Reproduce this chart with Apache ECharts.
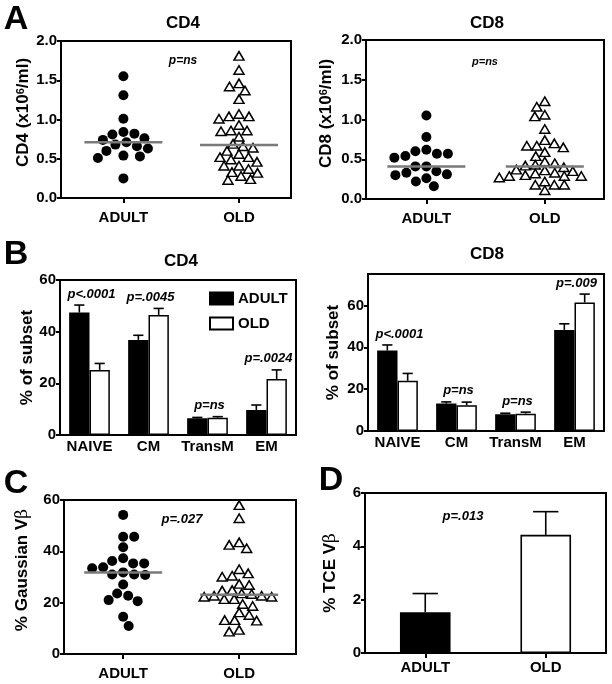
<!DOCTYPE html>
<html>
<head>
<meta charset="utf-8">
<script src="https://cdn.jsdelivr.net/npm/echarts@6/dist/echarts.min.js"></script>
<style>html,body{margin:0;padding:0;background:#fff}#c{width:612px;height:684px}</style>
</head>
<body>
<div id="c"></div>
<script>
// ---------- DATA ----------
const groups = ['ADULT', 'OLD'];
// Panel A (x10^6/ml)
const cd4Adult = [1.55, 1.31, 1.01, 0.84, 0.82, 0.81, 0.76, 0.74, 0.71, 0.68, 0.66, 0.63, 0.60, 0.54, 0.53, 0.51, 0.25];
const cd4Old = [1.81, 1.63, 1.46, 1.42, 1.37, 1.26, 1.07, 1.04, 1.04, 1.01, 0.93, 0.86, 0.86, 0.85, 0.78, 0.69,
                0.66, 0.64, 0.60, 0.56, 0.52, 0.52, 0.49, 0.46, 0.41, 0.41, 0.37, 0.33, 0.32, 0.28, 0.24, 0.23];
const cd8Adult = [1.05, 0.78, 0.62, 0.60, 0.57, 0.57, 0.54, 0.52, 0.41, 0.41, 0.35, 0.33, 0.31, 0.30, 0.26, 0.22, 0.16];
const cd8Old = [1.23, 1.16, 1.06, 1.04, 0.88, 0.74, 0.70, 0.67, 0.67, 0.65, 0.59, 0.54, 0.47, 0.45, 0.43, 0.42,
                0.40, 0.37, 0.36, 0.35, 0.33, 0.32, 0.30, 0.29, 0.29, 0.29, 0.27, 0.22, 0.18, 0.18, 0.18, 0.11];
// Panel B (% of subset)
const subsetCats = ['NAIVE', 'CM', 'TransM', 'EM'];
const cd4SubAdult = [47.4, 36.8, 6.5, 9.7];
const cd4SubAdultErr = [2.9, 1.8, 0.3, 1.9];
const cd4SubOld = [25.2, 46.5, 6.7, 21.7];
const cd4SubOldErr = [2.5, 2.5, 0.4, 3.5];
const cd4SubP = ['p<.0001', 'p=.0045', 'p=ns', 'p=.0024'];
const cd8SubAdult = [38.4, 13.1, 8.0, 48.3];
const cd8SubAdultErr = [2.7, 0.8, 0.5, 2.9];
const cd8SubOld = [24.0, 12.3, 8.3, 61.4];
const cd8SubOldErr = [3.5, 1.5, 0.7, 4.0];
const cd8SubP = ['p<.0001', 'p=ns', 'p=ns', 'p=.009'];
// Panel C (% Gaussian Vb)
const gaussAdult = [54.2, 45.7, 45.7, 41.6, 37.3, 36.2, 35.3, 35.3, 33.8, 33.4, 31.8, 31.0, 30.8, 31.0, 27.1, 23.6, 22.7, 21.0, 20.6, 14.5, 10.9];
const gaussOld = [58.0, 52.9, 43.5, 42.5, 41.2, 33.0, 31.4, 30.5, 30.1, 27.3, 26.9, 24.9, 24.7, 23.6, 23.4,
                  22.7, 22.7, 22.3, 22.3, 21.4, 21.4, 19.5, 18.7, 16.2, 15.2, 13.2, 13.0, 13.2, 9.4, 8.7];
// Panel D (% TCE Vb)
const tceMean = [1.53, 4.43];
const tceErr = [0.70, 0.87];

// ---------- HELPERS ----------
const FONT = "'Liberation Sans', Arial, Helvetica, sans-serif";
const median = a => { const s = a.slice().sort((x, y) => x - y); const n = s.length; return n % 2 ? s[(n - 1) / 2] : (s[n / 2 - 1] + s[n / 2]) / 2; };

const grids = [
  { left: 61, top: 41, width: 230, height: 157 },
  { left: 366, top: 40, width: 238, height: 159 },
  { left: 60, top: 280, width: 236, height: 155 },
  { left: 368, top: 274, width: 236, height: 157 },
  { left: 64, top: 500, width: 232, height: 154 },
  { left: 365, top: 493, width: 241, height: 160 }
];
const xRanges = { 0: [0.46, 2.45], 1: [0.49, 2.5], 4: [0.49, 2.49] };
const yMaxes = [2, 2, 60, 75, 60, 6];

// beeswarm offsets (in x data units) computed from the values (elliptic collision)
function swarm(vals, gi, wx, wy) {
  const g = grids[gi];
  const pyPer = g.height / yMaxes[gi];
  const pxPer = g.width / (xRanges[gi][1] - xRanges[gi][0]);
  const order = vals.map((v, i) => i).sort((a, b) => vals[b] - vals[a]);
  const placed = []; const out = new Array(vals.length);
  let flip = 1;
  for (const i of order) {
    const y = vals[i] * pyPer; let x = null;
    for (let k = 0; k < 800 && x === null; k++) {
      const cs = k === 0 ? [0] : [flip * k * 0.5, -flip * k * 0.5];
      for (const c of cs) {
        if (placed.every(p => ((p.x - c) / wx) ** 2 + ((p.y - y) / wy) ** 2 >= 1)) { x = c; break; }
      }
    }
    flip = -flip;
    placed.push({ x, y }); out[i] = x / pxPer;
  }
  return out;
}
function swarmData(vals, gi, center, filled) {
  const off = filled ? swarm(vals, gi, 11, 10.5) : swarm(vals, gi, 10, 8.5);
  return vals.map((v, i) => [center + off[i], v]);
}

const axisLineStyle = { show: true, lineStyle: { color: '#000', width: 2 } };
const tickStyle = { show: true, length: 4, lineStyle: { color: '#000', width: 2 } };
const labelBase = { color: '#000', fontSize: 15, fontWeight: 'bold', fontFamily: FONT };
function nameStyle(pad) {
  return {
    color: '#000', fontSize: 17, fontWeight: 'bold', fontFamily: FONT, padding: pad || 0,
    rich: {
      sup: { fontSize: 11, fontWeight: 'bold', fontFamily: FONT, color: '#000', verticalAlign: 'top' },
      beta: { fontSize: 17, fontWeight: 'normal', fontFamily: "'DejaVu Serif', serif", color: '#000' }
    }
  };
}

function yAxis(gi, max, interval, name, nameGap, fmt, pad, extraLabel) {
  return {
    gridIndex: gi, type: 'value', min: 0, max, interval,
    name, nameLocation: 'middle', nameGap, nameRotate: 90,
    nameTextStyle: nameStyle(pad),
    axisLine: axisLineStyle, axisTick: tickStyle,
    axisLabel: Object.assign({}, labelBase, { margin: 4, formatter: fmt || (v => String(v)) }, extraLabel || {}),
    splitLine: { show: false }
  };
}
function xValueAxis(gi) {
  return {
    gridIndex: gi, type: 'value', min: xRanges[gi][0], max: xRanges[gi][1],
    axisLine: axisLineStyle,
    axisTick: Object.assign({}, tickStyle, { length: 5, customValues: [1, 2] }),
    axisLabel: Object.assign({}, labelBase, { margin: 12, customValues: [1, 2], formatter: v => groups[Math.round(v) - 1] }),
    splitLine: { show: false }
  };
}
function xCatAxis(gi, cats, showTick, margin) {
  return {
    gridIndex: gi, type: 'category', data: cats,
    axisLine: axisLineStyle,
    axisTick: Object.assign({}, tickStyle, { show: showTick, length: 5, alignWithLabel: true }),
    axisLabel: Object.assign({}, labelBase, { margin, interval: 0 }),
    splitLine: { show: false }
  };
}

function dotSeries(gi, vals, center, filled) {
  return {
    type: 'scatter', xAxisIndex: gi, yAxisIndex: gi, data: swarmData(vals, gi, center, filled),
    symbol: filled ? 'circle' : 'triangle',
    symbolSize: filled ? 10 : [10, 8.5],
    itemStyle: filled ? { color: '#000', opacity: 1 } : { color: '#fff', borderColor: '#000', borderWidth: 1.5, opacity: 1 },
    z: 3, silent: true
  };
}
function medianSeries(gi, meds) {
  return {
    type: 'custom', xAxisIndex: gi, yAxisIndex: gi, z: 6, silent: true,
    data: meds.map((m, i) => [i + 1, m]),
    renderItem: (params, api) => {
      const p = api.coord([api.value(0), api.value(1)]);
      return { type: 'line', shape: { x1: p[0] - 39, y1: p[1], x2: p[0] + 39, y2: p[1] }, style: { stroke: '#7a7a7a', lineWidth: 2.5 } };
    }
  };
}
function barSeries(gi, name, vals, fill) {
  return {
    type: 'bar', name, xAxisIndex: gi, yAxisIndex: gi, data: vals,
    barGap: '0%', barCategoryGap: '31%',
    itemStyle: { color: fill, borderColor: '#000', borderWidth: 1.5 },
    z: 2, silent: true
  };
}
function errSeries(gi, vals, errs, sign, frac) {
  return {
    type: 'custom', xAxisIndex: gi, yAxisIndex: gi, z: 4, silent: true,
    data: vals.map((v, i) => [i, v, errs[i]]),
    renderItem: (params, api) => {
      const base = api.coord([api.value(0), api.value(1)]);
      const top = api.coord([api.value(0), api.value(1) + api.value(2)]);
      const bw = api.size([1, 0])[0] * frac;
      const x = base[0] + sign * bw / 2;
      const half = bw / 4;
      const st = { stroke: '#000', lineWidth: 1.6 };
      return { type: 'group', children: [
        { type: 'line', shape: { x1: x, y1: base[1], x2: x, y2: top[1] }, style: st },
        { type: 'line', shape: { x1: x - half, y1: top[1], x2: x + half, y2: top[1] }, style: st }
      ] };
    }
  };
}
function pSeries(gi, a, ae, o, oe, labels) {
  return {
    type: 'custom', xAxisIndex: gi, yAxisIndex: gi, z: 7, silent: true,
    data: a.map((v, i) => [i, Math.max(v + ae[i], o[i] + oe[i])]),
    renderItem: (params, api) => {
      const p = api.coord([api.value(0), api.value(1)]);
      return { type: 'text', x: p[0] + 2, y: p[1] - 11, style: {
        text: labels[params.dataIndex], fill: '#000', fontSize: 13, fontWeight: 'bold', fontStyle: 'italic',
        fontFamily: FONT, align: 'center', verticalAlign: 'middle' } };
    }
  };
}

function txt(text, x, y, size, opts) {
  return { type: 'text', x, y, z: 10, silent: true, style: Object.assign({
    text, fill: '#000', fontSize: size, fontWeight: 'bold', fontFamily: FONT, align: 'center', verticalAlign: 'middle'
  }, opts || {}) };
}

const fmt1 = v => v.toFixed(1);

const option = {
  animation: false,
  backgroundColor: '#fff',
  grid: grids.map(g => Object.assign({ show: true, borderColor: '#000', borderWidth: 2, backgroundColor: 'transparent', containLabel: false }, g)),
  xAxis: [
    xValueAxis(0),
    xValueAxis(1),
    xCatAxis(2, subsetCats, false, 4),
    xCatAxis(3, subsetCats, false, 4),
    xValueAxis(4),
    xCatAxis(5, groups, true, 7)
  ],
  yAxis: [
    yAxis(0, 2, 0.5, 'CD4 (x10{sup|6}/ml)', 28, fmt1, [0, 0, 0, 14]),
    yAxis(1, 2, 0.5, 'CD8 (x10{sup|6}/ml)', 31, fmt1, [0, 0, 0, 12]),
    yAxis(2, 60, 20, '% of subset', 24),
    yAxis(3, 75, 20, '% of subset', 26, null, 0, { showMaxLabel: false }),
    yAxis(4, 60, 20, '% Gaussian V{beta|β}', 33, null, [0, 0, 0, 14]),
    yAxis(5, 6, 2, '% TCE V{beta|β}', 26)
  ],
  legend: {
    data: ['ADULT', 'OLD'], orient: 'vertical', left: 209, top: 291, padding: 0,
    itemWidth: 23, itemHeight: 12, itemGap: 10, icon: 'rect', selectedMode: false,
    textStyle: { color: '#000', fontSize: 15, fontWeight: 'bold', fontFamily: FONT }
  },
  series: [
    // Panel A - CD4
    dotSeries(0, cd4Adult, 1, true),
    dotSeries(0, cd4Old, 2, false),
    medianSeries(0, [median(cd4Adult), median(cd4Old)]),
    // Panel A - CD8
    dotSeries(1, cd8Adult, 1, true),
    dotSeries(1, cd8Old, 2, false),
    medianSeries(1, [median(cd8Adult), median(cd8Old)]),
    // Panel B - CD4
    barSeries(2, 'ADULT', cd4SubAdult, '#000'),
    barSeries(2, 'OLD', cd4SubOld, '#fff'),
    errSeries(2, cd4SubAdult, cd4SubAdultErr, -1, 0.345),
    errSeries(2, cd4SubOld, cd4SubOldErr, 1, 0.345),
    pSeries(2, cd4SubAdult, cd4SubAdultErr, cd4SubOld, cd4SubOldErr, cd4SubP),
    // Panel B - CD8
    barSeries(3, 'ADULT8', cd8SubAdult, '#000'),
    barSeries(3, 'OLD8', cd8SubOld, '#fff'),
    errSeries(3, cd8SubAdult, cd8SubAdultErr, -1, 0.345),
    errSeries(3, cd8SubOld, cd8SubOldErr, 1, 0.345),
    pSeries(3, cd8SubAdult, cd8SubAdultErr, cd8SubOld, cd8SubOldErr, cd8SubP),
    // Panel C
    dotSeries(4, gaussAdult, 1, true),
    dotSeries(4, gaussOld, 2, false),
    medianSeries(4, [median(gaussAdult), median(gaussOld)]),
    // Panel D
    {
      type: 'bar', name: 'TCE', xAxisIndex: 5, yAxisIndex: 5, barWidth: '42%', z: 2, silent: true,
      data: tceMean.map((v, i) => ({ value: v, itemStyle: { color: i === 0 ? '#000' : '#fff', borderColor: '#000', borderWidth: 1.6 } }))
    },
    errSeries(5, tceMean, tceErr, 0, 0.42)
  ],
  graphic: [
    txt('A', 16, 20, 34), txt('B', 16, 255, 34), txt('C', 16, 484, 34), txt('D', 331, 481, 34),
    txt('CD4', 183, 23, 17), txt('CD8', 487, 23, 17), txt('CD4', 181, 261, 17), txt('CD8', 487, 254, 17),
    txt('p=ns', 183, 61, 12, { fontStyle: 'italic' }),
    txt('p=ns', 485, 62, 11, { fontStyle: 'italic' }),
    txt('p=.027', 182, 519, 13, { fontStyle: 'italic' }),
    txt('p=.013', 463, 516, 13, { fontStyle: 'italic' })
  ]
};

const chart = echarts.init(document.getElementById('c'), null, { renderer: 'canvas' });
chart.setOption(option);
</script>
</body>
</html>
